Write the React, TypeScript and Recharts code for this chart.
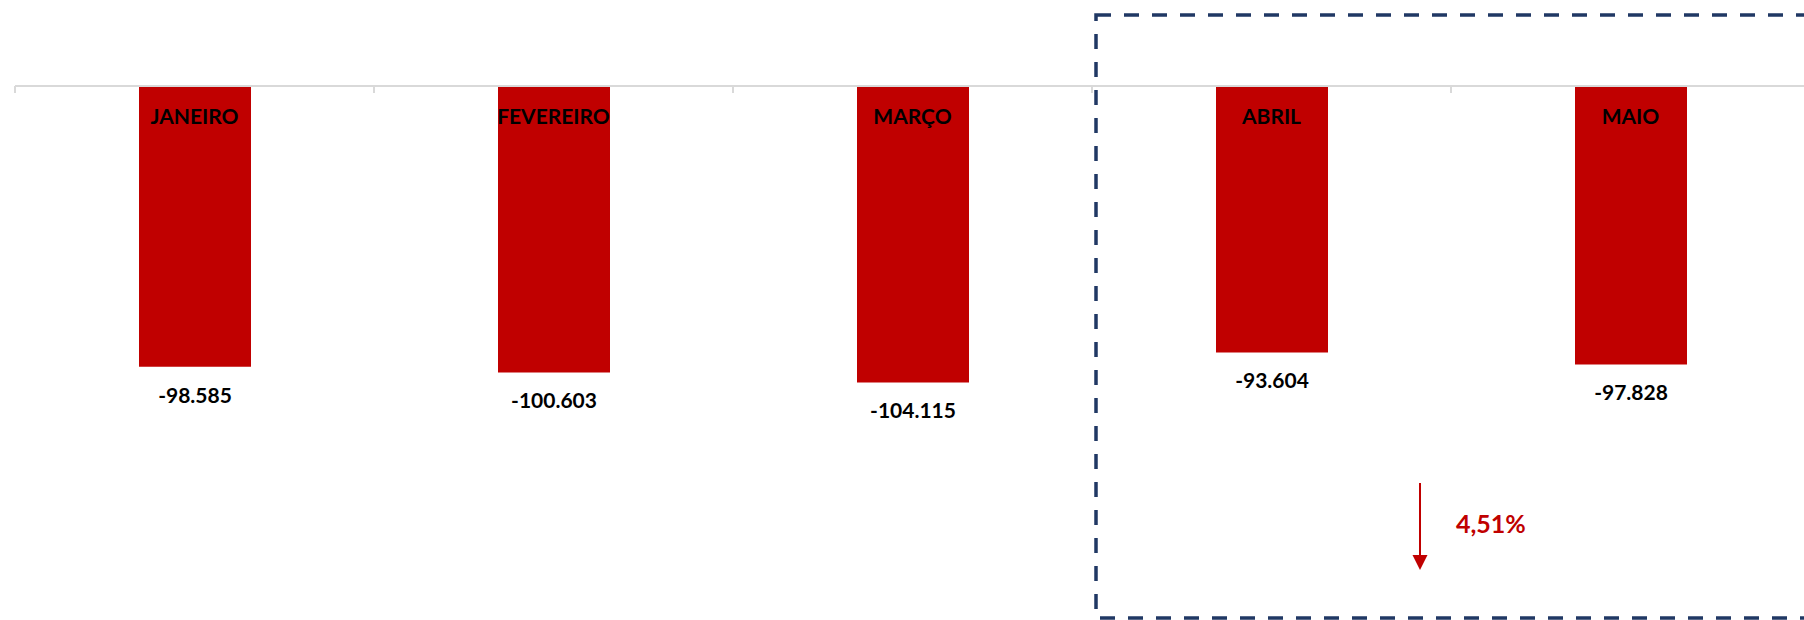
import React from 'react';
import { BarChart, Bar, XAxis, YAxis, LabelList } from 'recharts';

const months = ['JANEIRO', 'FEVEREIRO', 'MARÇO', 'ABRIL', 'MAIO'];
const values = [-98585, -100603, -104115, -93604, -97828];
const changeLabel = '4,51%';
const yDomain: [number, number] = [-150000, 0];

const data = months.map((m, i) => ({ month: m, value: values[i] }));

const CHART_W = 1830;
const CHART_H = 620;
const MARGIN = { top: 86, right: 20, left: 15, bottom: 107 };
const BAND = (CHART_W - MARGIN.left - MARGIN.right) / months.length;
const FONT = "Lato, 'Open Sans', 'DejaVu Sans', sans-serif";
const RED = '#C00000';
const NAVY = '#203864';

const fmt = (v: number) => {
  const s = Math.abs(Math.round(v)).toString().replace(/\B(?=(\d{3})+(?!\d))/g, '.');
  return (v < 0 ? '-' : '') + s;
};

function MonthTick(props: any) {
  const { x, payload } = props;
  const axisY = MARGIN.top;
  return (
    <g>
      <line x1={x - BAND / 2} x2={x - BAND / 2} y1={axisY} y2={axisY + 7} stroke="#D9D9D9" strokeWidth={2} />
      <text x={x} y={axisY + 38} textAnchor="middle" fontFamily={FONT} fontWeight={700} fontSize={21} fill="#000">
        {payload.value}
      </text>
    </g>
  );
}

function ValueLabel(props: any) {
  const { x, y, width, height, value } = props;
  const bottom = Math.max(Number(y), Number(y) + Number(height));
  return (
    <text x={Number(x) + Number(width) / 2} y={bottom + 36} textAnchor="middle" fontFamily={FONT} fontWeight={700} fontSize={21} fill="#000">
      {fmt(Number(value))}
    </text>
  );
}

export default function App() {
  return (
    <div style={{ position: 'absolute', left: 0, top: 0, width: 1804, height: 620, overflow: 'hidden', background: '#fff' }}>
      <BarChart width={CHART_W} height={CHART_H} data={data} margin={MARGIN}>
        <XAxis
          dataKey="month"
          orientation="top"
          mirror
          interval={0}
          tickLine={false}
          axisLine={{ stroke: '#D9D9D9', strokeWidth: 2 }}
          tick={<MonthTick />}
        />
        <YAxis hide domain={yDomain} />
        <Bar dataKey="value" fill={RED} barSize={112} isAnimationActive={false}>
          <LabelList dataKey="value" content={<ValueLabel />} />
        </Bar>
      </BarChart>
      <svg width={1804} height={620} style={{ position: 'absolute', left: 0, top: 0, pointerEvents: 'none' }}>
        <rect x={1096} y={15} width={800} height={603} fill="none" stroke={NAVY} strokeWidth={3.5} strokeDasharray="15 13" />
        <line x1={1420} x2={1420} y1={483} y2={557} stroke={RED} strokeWidth={2} />
        <polygon points="1412.5,555 1427.5,555 1420,570" fill={RED} />
        <text x={1456} y={533} fontFamily={FONT} fontWeight={700} fontSize={25} fill={RED}>
          {changeLabel}
        </text>
      </svg>
    </div>
  );
}
